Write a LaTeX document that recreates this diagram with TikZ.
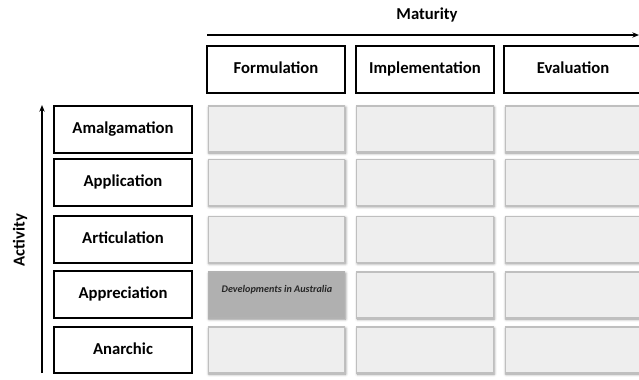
\documentclass[tikz,border=0pt]{standalone}
\usepackage{fontspec}
\setmainfont{Carlito}
\usetikzlibrary{
    arrows.meta,
    shapes,
    positioning,
    shadows,
    shadows.blur
}

\begin{document}
\begin{tikzpicture}[x=0.75pt, y=-0.75pt, >={Stealth[length=5pt,width=4pt]},
        label-node/.style={
                rectangle, draw=black, line width=1.3pt, fill=white, text centered,
                text height=9pt, text depth=2.5pt,
                minimum width=103pt, minimum height=35pt, font=\bfseries\fontsize{12.5}{14}\selectfont},
        cell-node/.style={
                rectangle, draw=gray!50, line width=0.8pt, fill=gray!13,
                minimum width=102.5pt, minimum height=34.5pt,
                blur shadow={shadow xshift=0.6pt, shadow yshift=-0.9pt, shadow blur radius=2pt, shadow opacity=45}},
        axis-text/.style={font=\bfseries\fontsize{12.5}{14}\selectfont}]
    \useasboundingbox (0,0) rectangle (639,379);
    % axes
    \coordinate (mat-start) at (207,35);
    \coordinate (mat-end) at (639,35);
    \coordinate (act-start) at (42,373);
    \coordinate (act-end) at (42,105);
    \draw [->, line width=1.2pt] (mat-start) -- (mat-end);
    \draw [->, line width=1.2pt] (act-start) -- (act-end);
    \node[axis-text] (maturity) at (427,15) {Maturity};
    \node[axis-text, rotate=90] (activity) at (20,240) {Activity};
    % column headers
    \node[label-node] (formulation) at (276,69.5) {Formulation};
    \node[label-node] (implementation) at (425,69.5) {Implementation};
    \node[label-node] (evaluation) at (573,69.5) {Evaluation};
    % row headers
    \node[label-node] (amalgamation) at (123,129.5) {Amalgamation};
    \node[label-node] (application) at (123,182.5) {Application};
    \node[label-node] (articulation) at (123,239.5) {Articulation};
    \node[label-node] (appreciation) at (123,294.5) {Appreciation};
    \node[label-node] (anarchic) at (123,350) {Anarchic};
    % cells
    \node[cell-node] (c11) at (276.5,129) {};
    \node[cell-node] (c12) at (425,129) {};
    \node[cell-node] (c13) at (573.5,129) {};
    \node[cell-node] (c21) at (276.5,182.5) {};
    \node[cell-node] (c22) at (425,182.5) {};
    \node[cell-node] (c23) at (573.5,182.5) {};
    \node[cell-node] (c31) at (276.5,239.5) {};
    \node[cell-node] (c32) at (425,239.5) {};
    \node[cell-node] (c33) at (573.5,239.5) {};
    \node[cell-node, draw=gray!60, fill=gray!62] (c41) at (276.5,295) {};
    \node[cell-node] (c42) at (425,295) {};
    \node[cell-node] (c43) at (573.5,295) {};
    \node[cell-node] (c51) at (276.5,350) {};
    \node[cell-node] (c52) at (425,350) {};
    \node[cell-node] (c53) at (573.5,350) {};
    \node[font=\bfseries\itshape\fontsize{7.6}{8}\selectfont, text=black!85] (australia) at (277,290) {Developments in Australia};
\end{tikzpicture}
\end{document}
